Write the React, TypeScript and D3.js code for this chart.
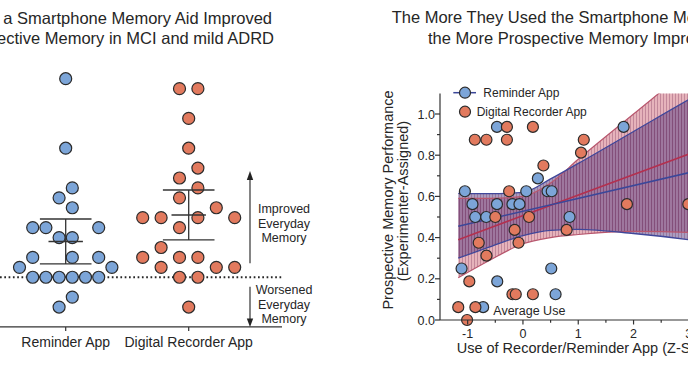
import React from 'react';
import * as d3 from 'd3';

// ---- left panel: change in everyday memory, one dot per participant ----
const groups = ['Reminder App', 'Digital Recorder App'];
const reminderValues = [20, 13, 9, 8, 7, 5, 5, 5, 4, 4, 2, 2, 2, 1, 1, 0, 0, 0, 0, 0, 0, -2, -3];
const reminderSlots = [0, 0, 1, -1, 1, -5, -3, 5, -1, 1, -5, 1, 5, -7, 7, -5, -3, -1, 1, 3, 5, 1, -1];
const recorderValues = [19, 19, 16, 13, 11, 10, 9, 8, 7, 6, 6, 6, 6, 5, 3, 2, 2, 2, 1, 1, 1, 0, 0, -3];
const recorderSlots = [-1, 1, 0, 0, 1, -1, 1, -1, 3, -5, -3, 1, 5, -1, -3, -5, -1, 1, -3, 3, 5, -1, 1, 0];
const groupMeans = [3.6, 6.27];
const groupLow = [1.34, 3.76];
const groupHigh = [5.87, 8.79];

// ---- right panel: app use (z-score) vs prospective memory ----
const reminderX = [-0.47, 1.82, 0.27, -1.05, 0.06, 0.445, 0.52, -0.913, -0.47, -0.19, -0.063, -0.863, -0.664, 0.843, -1.11, 0.512, -0.465, 0.59, -0.72];
const reminderY = [0.9375, 0.9375, 0.6875, 0.625, 0.625, 0.625, 0.625, 0.5625, 0.5625, 0.5625, 0.5625, 0.5, 0.5, 0.5, 0.25, 0.25, 0.1875, 0.125, 0.0625];
const recorderX = [-0.29, 0.18, -0.87, -0.66, -0.29, 1.1, 1.05, 0.37, -0.25, 1.88, 2.99, -0.5, 0.11, -0.15, 0.79, -0.8, -0.08, -0.66, -0.97, -0.19, -0.13, 0.18, -1.17, -0.86, -1.01];
const recorderY = [0.9375, 0.9375, 0.875, 0.875, 0.875, 0.875, 0.8125, 0.75, 0.625, 0.5625, 0.5625, 0.5, 0.5, 0.4375, 0.4375, 0.375, 0.375, 0.3125, 0.1875, 0.125, 0.125, 0.125, 0.0625, 0.0625, 0.0];

const fitX = [-1.17, 3.4];
const reminderFit = [0.455, 0.74];
const recorderFit = [0.39, 0.845];
const ciX = [-1.17, -0.6, 0, 0.5, 1, 2, 3, 3.4];
const reminderUpper = [0.615, 0.613, 0.62, 0.685, 0.76, 0.915, 1.07, 1.13];
const reminderLower = [0.3, 0.355, 0.41, 0.435, 0.44, 0.42, 0.39, 0.375];
const recorderUpper = [0.59, 0.59, 0.6, 0.665, 0.78, 1.0, 1.22, 1.31];
const recorderLower = [0.205, 0.29, 0.37, 0.4, 0.415, 0.43, 0.425, 0.42];

const yTicksR = [0, 0.2, 0.4, 0.6, 0.8, 1.0];
const xTicksR = [-1, 0, 1, 2, 3, 4];

const FONT = '"Liberation Sans", Arial, Helvetica, sans-serif';
const INK = '#262626';
const BLUE = '#7ca5d8';
const ORANGE = '#e27a5e';
const DOT_STROKE = '#2b2b2b';

const App: React.FC = () => {
  // left panel scales
  const yL = d3.scaleLinear().domain([-5, 20]).range([326.9, 78.7]);
  const xL = d3.scalePoint<string>().domain(groups).range([65.7, 188.7]);
  const slotPx = [6.6, 9.2];

  // right panel scales
  const xR = d3.scaleLinear().domain([-1.5, 4]).range([440, 440 + 5.5 * 55.3]);
  const yR = d3.scaleLinear().domain([0, 1.1]).range([320, 320 - 1.1 * 206]);

  const pts = (xs: number[], ys: number[]) => xs.map((x, i) => [x, ys[i]] as [number, number]);
  const line = d3.line<[number, number]>().x(d => xR(d[0])).y(d => yR(d[1])).curve(d3.curveMonotoneX);
  const band = (lo: number[], hi: number[]) =>
    d3.area<number>()
      .x((_, i) => xR(ciX[i]))
      .y0((_, i) => yR(lo[i]))
      .y1((_, i) => yR(hi[i]))
      .curve(d3.curveMonotoneX)(ciX) || '';

  const leftDots = [
    { values: reminderValues, slots: reminderSlots, fill: BLUE, g: 0 },
    { values: recorderValues, slots: recorderSlots, fill: ORANGE, g: 1 },
  ];

  const yMinor = d3.range(0.1, 1.1, 0.2);
  const xMinor = d3.range(-0.5, 4, 1);

  return (
    <svg width={688} height={387} style={{ position: 'absolute', left: 0, top: 0, background: '#fff' }} fontFamily={FONT}>
      <defs>
        <pattern id="hatch" width="3" height="10" patternUnits="userSpaceOnUse">
          <line x1="0.5" y1="0" x2="0.5" y2="10" stroke="rgba(110,35,75,0.3)" strokeWidth="1" />
        </pattern>
        <clipPath id="plotClip">
          <rect x={xR(-1.5)} y={yR(1.1)} width={400} height={yR(0) - yR(1.1)} />
        </clipPath>
      </defs>

      {/* ---------- left panel ---------- */}
      <g fill={INK} fontSize={16.5}>
        <text x={272} y={24} textAnchor="end">Using a Smartphone Memory Aid Improved</text>
        <text x={274} y={43.5} textAnchor="end">Prospective Memory in MCI and mild ADRD</text>
      </g>

      <line x1={0} x2={282} y1={yL(0)} y2={yL(0)} stroke={INK} strokeWidth={2} strokeDasharray="1.7 2.6" />
      <line x1={0} x2={282} y1={yL(-5)} y2={yL(-5)} stroke="#333" strokeWidth={1.2} />
      {groups.map(g => (
        <g key={g}>
          <line x1={xL(g)} x2={xL(g)} y1={yL(-5)} y2={yL(-5) + 4} stroke="#333" strokeWidth={1.2} />
          <text x={xL(g)} y={347} textAnchor="middle" fontSize={14} fill={INK}>{g}</text>
        </g>
      ))}

      {leftDots.map(s =>
        s.values.map((v, i) => (
          <circle key={`${s.g}-${i}`} cx={(xL(groups[s.g]) || 0) + s.slots[i] * slotPx[s.g]} cy={yL(v)} r={6}
            fill={s.fill} stroke={DOT_STROKE} strokeWidth={1.2} />
        ))
      )}

      {groups.map((g, i) => {
        const cx = xL(g) || 0;
        return (
          <g key={`eb-${g}`} stroke="#333" strokeWidth={1.3}>
            <line x1={cx} x2={cx} y1={yL(groupHigh[i])} y2={yL(groupLow[i])} />
            <line x1={cx - 25.8} x2={cx + 25.8} y1={yL(groupHigh[i])} y2={yL(groupHigh[i])} />
            <line x1={cx - 25.8} x2={cx + 25.8} y1={yL(groupLow[i])} y2={yL(groupLow[i])} />
            <line x1={cx - 17.2} x2={cx + 17.2} y1={yL(groupMeans[i])} y2={yL(groupMeans[i])} />
          </g>
        );
      })}

      {/* improvement / worsening arrows */}
      <g stroke="#333" strokeWidth={1.2} fill="#222">
        <line x1={250} x2={250} y1={263.3} y2={178} />
        <path d="M250,171 L246.8,180 L253.2,180 Z" stroke="none" />
        <line x1={250} x2={250} y1={286.7} y2={320} />
        <path d="M250,327 L246.8,318.5 L253.2,318.5 Z" stroke="none" />
      </g>
      <g fontSize={12.5} fill={INK} textAnchor="middle">
        <text x={284} y={213.3}>Improved</text>
        <text x={284} y={227.6}>Everyday</text>
        <text x={284} y={241.8}>Memory</text>
        <text x={284} y={294.3}>Worsened</text>
        <text x={284} y={308.6}>Everyday</text>
        <text x={284} y={322.8}>Memory</text>
      </g>

      {/* ---------- right panel ---------- */}
      <g fill={INK} fontSize={16.5}>
        <text x={391.7} y={23.3}>The More They Used the Smartphone Memory Aid,</text>
        <text x={428} y={44.3}>the More Prospective Memory Improved</text>
      </g>

      <g clipPath="url(#plotClip)">
        <path d={band(recorderLower, recorderUpper)} fill="#e6b3bb" />
        <path d={band(recorderLower, recorderUpper)} fill="url(#hatch)" />
        <path d={band(reminderLower, reminderUpper)} fill="rgba(85,60,130,0.5)" />
        <path d={band(reminderLower, reminderUpper)} fill="url(#hatch)" />
        <path d={line(pts(ciX, recorderUpper)) || ''} fill="none" stroke="#b8576e" strokeWidth={1.2} />
        <path d={line(pts(ciX, recorderLower)) || ''} fill="none" stroke="#b8576e" strokeWidth={1.2} />
        <path d={line(pts(ciX, reminderUpper)) || ''} fill="none" stroke="#40479a" strokeWidth={1.3} />
        <path d={line(pts(ciX, reminderLower)) || ''} fill="none" stroke="#40479a" strokeWidth={1.3} />
        <path d={line(pts(fitX, recorderFit)) || ''} fill="none" stroke="#b3304f" strokeWidth={1.6} />
        <path d={line(pts(fitX, reminderFit)) || ''} fill="none" stroke="#3b4799" strokeWidth={1.6} />
      </g>

      {reminderX.map((x, i) => (
        <circle key={`rb-${i}`} cx={xR(x)} cy={yR(reminderY[i])} r={5.5} fill={BLUE} stroke={DOT_STROKE} strokeWidth={1.2} />
      ))}
      {recorderX.map((x, i) => (
        <circle key={`ro-${i}`} cx={xR(x)} cy={yR(recorderY[i])} r={5.5} fill={ORANGE} stroke={DOT_STROKE} strokeWidth={1.2} />
      ))}

      {/* axes */}
      <g stroke="#333" strokeWidth={1.2}>
        <line x1={xR(-1.5)} x2={xR(-1.5)} y1={yR(1.1)} y2={yR(0)} />
        <line x1={xR(-1.5)} x2={xR(4)} y1={yR(0)} y2={yR(0)} />
        {yTicksR.map(t => <line key={`yt${t}`} x1={xR(-1.5) - 5} x2={xR(-1.5)} y1={yR(t)} y2={yR(t)} />)}
        {yMinor.map(t => <line key={`ym${t}`} x1={xR(-1.5) - 3} x2={xR(-1.5)} y1={yR(t)} y2={yR(t)} />)}
        {xTicksR.map(t => <line key={`xt${t}`} x1={xR(t)} x2={xR(t)} y1={yR(0)} y2={yR(0) + 4.5} />)}
        {xMinor.map(t => <line key={`xm${t}`} x1={xR(t)} x2={xR(t)} y1={yR(0)} y2={yR(0) + 2.8} />)}
      </g>
      <g fontSize={12.5} fill={INK}>
        {yTicksR.map(t => (
          <text key={`yl${t}`} x={435} y={yR(t) + 4.5} textAnchor="end">{d3.format('.1f')(t)}</text>
        ))}
        {xTicksR.map(t => (
          <text key={`xl${t}`} x={xR(t)} y={337.5} textAnchor="middle">{t < 0 ? `-${-t}` : t}</text>
        ))}
      </g>
      <text x={456.7} y={352.5} fontSize={14.5} fill={INK}>Use of Recorder/Reminder App (Z-Score)</text>
      <g fontSize={14.5} fill={INK} textAnchor="middle">
        <text transform="translate(393,200) rotate(-90)">Prospective Memory Performance</text>
        <text transform="translate(408,201) rotate(-90)">(Experimenter-Assigned)</text>
      </g>

      {/* legend */}
      <line x1={453.3} x2={476} y1={92.7} y2={92.7} stroke="#3b4799" strokeWidth={1.5} />
      <circle cx={465} cy={92.7} r={5.5} fill={BLUE} stroke={DOT_STROKE} strokeWidth={1.2} />
      <circle cx={465} cy={111.7} r={5.5} fill={ORANGE} stroke={DOT_STROKE} strokeWidth={1.2} />
      <g fontSize={12} fill={INK}>
        <text x={483.3} y={97}>Reminder App</text>
        <text x={476.7} y={116}>Digital Recorder App</text>
      </g>
      <text x={493.3} y={315} fontSize={12.5} fill={INK}>Average Use</text>
    </svg>
  );
};

export default App;
